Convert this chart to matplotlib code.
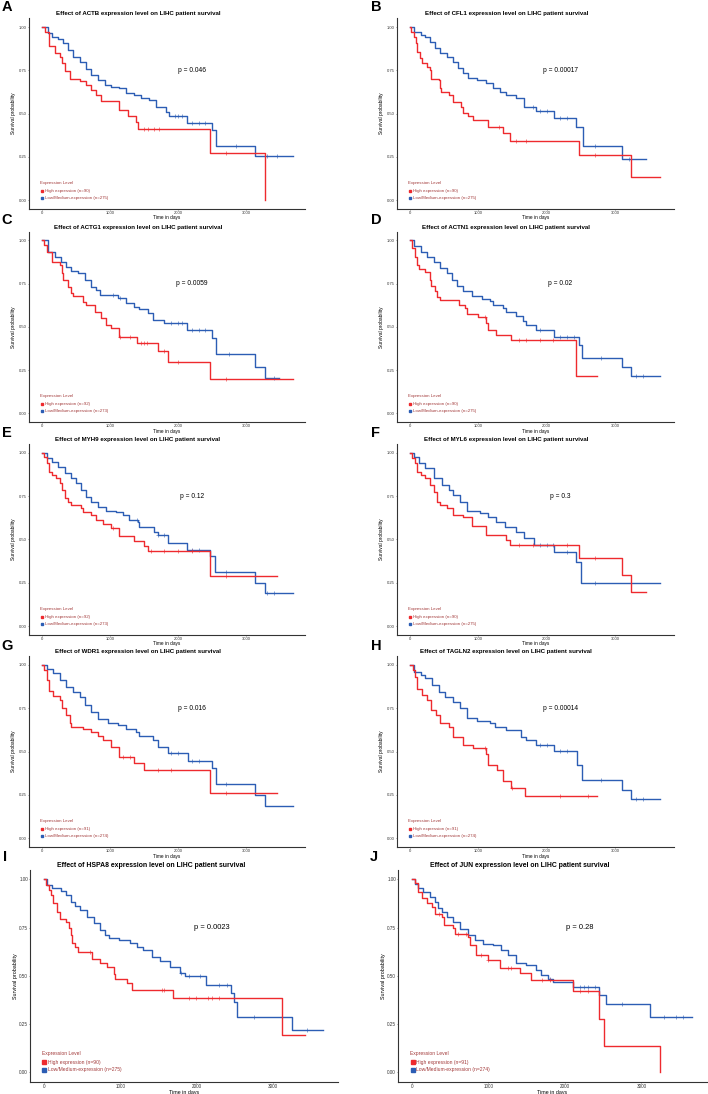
import matplotlib
matplotlib.use('Agg')
import matplotlib.pyplot as plt

plt.rcParams['font.family'] = ['Liberation Sans', 'DejaVu Sans']

RED = '#EE2A2E'
BLUE = '#2C5DB4'
LEGC = '#A33B3B'

genes = ['ACTB', 'CFL1', 'ACTG1', 'ACTN1', 'MYH9', 'MYL6', 'WDR1', 'TAGLN2', 'HSPA8', 'JUN']
letters = ['A', 'B', 'C', 'D', 'E', 'F', 'G', 'H', 'I', 'J']
pvals = ['0.046', '0.00017', '0.0059', '0.02', '0.12', '0.3', '0.016', '0.00014', '0.0023', '0.28']
n_high = [90, 90, 92, 90, 92, 90, 91, 91, 90, 91]
n_low = [275, 275, 273, 275, 273, 275, 274, 274, 275, 274]

# survival curves (time in days, survival after the step)
actb_high_t = [0, 48, 112, 194, 267, 306, 340, 413, 558, 655, 728, 801, 874, 1141, 1262, 1383, 1417, 2461, 3267]
actb_high_s = [1, 0.97, 0.89, 0.85, 0.825, 0.79, 0.745, 0.70, 0.69, 0.665, 0.635, 0.61, 0.575, 0.52, 0.485, 0.453, 0.41, 0.27, 0.0]
actb_high_end = 3267
actb_high_cens = [1500, 1560, 1640, 1720, 2700]
actb_low_t = [0, 97, 146, 243, 316, 388, 461, 558, 655, 728, 825, 922, 1019, 1141, 1238, 1359, 1456, 1578, 1675, 1820, 1869, 2136, 2500, 2549, 3131]
actb_low_s = [1, 0.963, 0.94, 0.93, 0.905, 0.867, 0.828, 0.80, 0.76, 0.72, 0.695, 0.665, 0.655, 0.645, 0.617, 0.607, 0.588, 0.578, 0.54, 0.51, 0.487, 0.447, 0.405, 0.314, 0.254]
actb_low_end = 3689
actb_low_cens = [1950, 2000, 2050, 2200, 2300, 2400, 2850, 3300, 3450]

cfl1_high_t = [0, 24, 63, 87, 111, 149, 183, 255, 303, 313, 424, 438, 457, 568, 631, 746, 785, 857, 920, 1146, 1363, 1469, 2470, 3231]
cfl1_high_s = [1, 0.973, 0.944, 0.906, 0.858, 0.819, 0.79, 0.771, 0.752, 0.698, 0.694, 0.646, 0.627, 0.608, 0.569, 0.54, 0.502, 0.483, 0.46, 0.425, 0.39, 0.344, 0.26, 0.131]
cfl1_high_end = 3654
cfl1_high_cens = [1300, 1560, 1700, 2700]
cfl1_low_t = [0, 63, 159, 231, 303, 376, 448, 544, 640, 713, 785, 857, 977, 1122, 1218, 1314, 1411, 1555, 1676, 1844, 2109, 2431, 2528, 3096]
cfl1_low_s = [1, 0.973, 0.954, 0.944, 0.915, 0.877, 0.848, 0.829, 0.80, 0.762, 0.733, 0.704, 0.694, 0.675, 0.646, 0.627, 0.608, 0.588, 0.54, 0.512, 0.473, 0.421, 0.315, 0.237]
cfl1_low_end = 3457
cfl1_low_cens = [1800, 1900, 2000, 2200, 2300, 2700, 3200]

actg1_high_t = [0, 34, 73, 146, 267, 301, 316, 388, 437, 461, 607, 655, 777, 874, 947, 1019, 1141, 1398, 1699, 1845, 2466]
actg1_high_s = [1, 0.973, 0.934, 0.876, 0.857, 0.809, 0.771, 0.732, 0.694, 0.678, 0.645, 0.626, 0.588, 0.549, 0.511, 0.491, 0.443, 0.405, 0.362, 0.299, 0.20]
actg1_high_end = 3689
actg1_high_cens = [1150, 1300, 1450, 1500, 1550, 1800, 2000, 2700]
actg1_low_t = [0, 97, 194, 291, 364, 437, 534, 631, 728, 801, 850, 1117, 1238, 1359, 1432, 1553, 1626, 1796, 2136, 2500, 2549, 3131, 3267]
actg1_low_s = [1, 0.934, 0.906, 0.877, 0.848, 0.825, 0.809, 0.771, 0.732, 0.713, 0.684, 0.665, 0.636, 0.617, 0.601, 0.578, 0.539, 0.52, 0.482, 0.434, 0.341, 0.27, 0.202]
actg1_low_end = 3485
actg1_low_cens = [1050, 1150, 1900, 2000, 2050, 2200, 2300, 2400, 2750, 3400]

actn1_high_t = [0, 39, 72, 101, 135, 231, 294, 313, 376, 400, 438, 727, 809, 833, 1001, 1122, 1146, 1266, 1483, 2431]
actn1_high_s = [1, 0.954, 0.906, 0.858, 0.833, 0.814, 0.772, 0.733, 0.704, 0.672, 0.653, 0.628, 0.608, 0.576, 0.557, 0.522, 0.484, 0.455, 0.426, 0.215]
actn1_high_end = 2735
actn1_high_cens = [1100, 1600, 1700, 1900, 2100]
actn1_low_t = [0, 63, 159, 255, 351, 448, 544, 616, 688, 785, 905, 1050, 1170, 1218, 1363, 1411, 1555, 1651, 1700, 1844, 2109, 2470, 2518, 3096, 3231]
actn1_low_s = [1, 0.964, 0.935, 0.906, 0.877, 0.839, 0.81, 0.772, 0.737, 0.704, 0.676, 0.66, 0.647, 0.628, 0.608, 0.583, 0.56, 0.532, 0.512, 0.484, 0.44, 0.397, 0.321, 0.269, 0.215]
actn1_low_end = 3654
actn1_low_cens = [1900, 2200, 2300, 2400, 2800, 3300, 3400]

myh9_high_t = [0, 39, 73, 107, 146, 218, 267, 301, 340, 388, 437, 583, 607, 728, 801, 898, 1019, 1141, 1359, 1505, 1553, 2466]
myh9_high_s = [1, 0.977, 0.938, 0.89, 0.871, 0.852, 0.827, 0.785, 0.737, 0.717, 0.698, 0.679, 0.66, 0.64, 0.612, 0.588, 0.563, 0.519, 0.492, 0.462, 0.433, 0.288]
myh9_high_end = 3447
myh9_high_cens = [1050, 1600, 1800, 2000, 2200, 2700]
myh9_low_t = [0, 73, 146, 243, 340, 437, 510, 583, 655, 728, 825, 947, 1092, 1189, 1286, 1408, 1432, 1650, 1699, 1845, 2136, 2466, 2534, 3131, 3267]
myh9_low_s = [1, 0.967, 0.948, 0.919, 0.881, 0.852, 0.823, 0.785, 0.746, 0.717, 0.685, 0.665, 0.66, 0.64, 0.612, 0.602, 0.573, 0.544, 0.525, 0.481, 0.438, 0.404, 0.313, 0.25, 0.188]
myh9_low_end = 3689
myh9_low_cens = [1400, 1700, 1800, 2200, 2300, 2700, 3300, 3400]

myl6_high_t = [0, 39, 72, 101, 159, 231, 294, 351, 400, 448, 544, 640, 785, 905, 1122, 1411, 1469, 2470, 3096, 3231]
myl6_high_s = [1, 0.967, 0.938, 0.89, 0.871, 0.852, 0.813, 0.775, 0.717, 0.698, 0.679, 0.64, 0.627, 0.577, 0.525, 0.496, 0.467, 0.39, 0.294, 0.194]
myl6_high_end = 3457
myl6_high_cens = [1600, 1800, 2300, 2700]
myl6_low_t = [0, 63, 135, 231, 351, 472, 568, 640, 737, 833, 1026, 1146, 1266, 1387, 1555, 1676, 1820, 2109, 2431, 2508]
myl6_low_s = [1, 0.977, 0.938, 0.91, 0.852, 0.813, 0.785, 0.756, 0.717, 0.665, 0.65, 0.631, 0.602, 0.569, 0.544, 0.506, 0.467, 0.429, 0.371, 0.25]
myl6_low_end = 3654
myl6_low_cens = [1900, 2000, 2100, 2300, 2700]

wdr1_high_t = [0, 39, 73, 107, 170, 267, 306, 364, 413, 437, 607, 728, 825, 898, 1019, 1141, 1359, 1505, 2466]
wdr1_high_s = [1, 0.971, 0.913, 0.85, 0.821, 0.798, 0.75, 0.712, 0.663, 0.64, 0.629, 0.615, 0.59, 0.567, 0.529, 0.471, 0.433, 0.394, 0.263]
wdr1_high_end = 3447
wdr1_high_cens = [1200, 1300, 1700, 1900, 2700]
wdr1_low_t = [0, 73, 170, 267, 364, 461, 558, 631, 728, 825, 971, 1117, 1238, 1383, 1432, 1626, 1699, 1845, 2146, 2500, 2549, 3131, 3267]
wdr1_low_s = [1, 0.975, 0.952, 0.913, 0.875, 0.846, 0.817, 0.769, 0.731, 0.687, 0.667, 0.654, 0.629, 0.615, 0.59, 0.567, 0.529, 0.49, 0.446, 0.408, 0.313, 0.25, 0.188]
wdr1_low_end = 3689
wdr1_low_cens = [1900, 2000, 2200, 2300, 2700]

tagln2_high_t = [0, 48, 77, 101, 183, 255, 313, 390, 438, 568, 640, 785, 929, 1112, 1146, 1276, 1363, 1483, 1690]
tagln2_high_s = [1, 0.971, 0.933, 0.86, 0.827, 0.798, 0.74, 0.712, 0.664, 0.641, 0.583, 0.539, 0.52, 0.488, 0.424, 0.395, 0.328, 0.29, 0.242]
tagln2_high_end = 2735
tagln2_high_cens = [1100, 1500, 2200, 2600]
tagln2_low_t = [0, 63, 159, 231, 327, 424, 520, 640, 737, 833, 977, 1170, 1242, 1411, 1627, 1700, 1844, 2109, 2446, 2518, 3096, 3231]
tagln2_low_s = [1, 0.962, 0.942, 0.923, 0.885, 0.846, 0.818, 0.789, 0.75, 0.693, 0.679, 0.664, 0.645, 0.626, 0.587, 0.568, 0.539, 0.501, 0.424, 0.338, 0.28, 0.227]
tagln2_low_end = 3654
tagln2_low_cens = [1900, 2000, 2200, 2300, 2800, 3300, 3400]

hspa8_high_t = [0, 22, 65, 96, 122, 165, 209, 283, 326, 357, 370, 413, 443, 630, 739, 826, 913, 935, 1087, 1152, 1687, 3122]
hspa8_high_s = [1, 0.971, 0.945, 0.919, 0.876, 0.832, 0.794, 0.777, 0.746, 0.712, 0.668, 0.651, 0.625, 0.585, 0.565, 0.547, 0.508, 0.484, 0.461, 0.427, 0.383, 0.193]
hspa8_high_end = 3426
hspa8_high_cens = [600, 1550, 1580, 1900, 2000, 2150, 2200, 2300]
hspa8_low_t = [0, 43, 109, 217, 283, 348, 413, 478, 565, 652, 739, 804, 848, 978, 1130, 1217, 1304, 1413, 1522, 1652, 1783, 1848, 2122, 2457, 2500, 2530, 3252]
hspa8_low_s = [1, 0.971, 0.953, 0.94, 0.919, 0.884, 0.864, 0.841, 0.807, 0.772, 0.737, 0.712, 0.694, 0.686, 0.668, 0.651, 0.634, 0.599, 0.577, 0.547, 0.513, 0.499, 0.453, 0.409, 0.366, 0.288, 0.219]
hspa8_low_end = 3661
hspa8_low_cens = [1800, 1900, 2050, 2300, 2400, 2750, 3450]

jun_high_t = [0, 39, 83, 126, 191, 257, 300, 387, 417, 539, 561, 735, 757, 843, 996, 1148, 1409, 1561, 2104, 2443, 2517, 3243]
jun_high_s = [1, 0.979, 0.936, 0.901, 0.875, 0.858, 0.823, 0.806, 0.763, 0.749, 0.719, 0.702, 0.662, 0.607, 0.584, 0.541, 0.516, 0.48, 0.419, 0.277, 0.139, 0.0]
jun_high_end = 3243
jun_high_cens = [350, 600, 700, 900, 1000, 1250, 1300, 1700, 1800, 2200, 2300]
jun_low_t = [0, 39, 83, 148, 235, 300, 343, 387, 452, 539, 626, 735, 822, 930, 1061, 1170, 1257, 1365, 1496, 1617, 1691, 1778, 1843, 2104, 2452, 2539, 3113]
jun_low_s = [1, 0.974, 0.953, 0.936, 0.91, 0.884, 0.853, 0.832, 0.806, 0.78, 0.745, 0.714, 0.685, 0.667, 0.659, 0.633, 0.607, 0.568, 0.555, 0.529, 0.503, 0.485, 0.468, 0.442, 0.402, 0.355, 0.286]
jun_low_end = 3661
jun_low_cens = [1800, 2200, 2250, 2300, 2400, 2750, 3300, 3450, 3550]

curves = [
    ((actb_high_t, actb_high_s, actb_high_end, actb_high_cens), (actb_low_t, actb_low_s, actb_low_end, actb_low_cens)),
    ((cfl1_high_t, cfl1_high_s, cfl1_high_end, cfl1_high_cens), (cfl1_low_t, cfl1_low_s, cfl1_low_end, cfl1_low_cens)),
    ((actg1_high_t, actg1_high_s, actg1_high_end, actg1_high_cens), (actg1_low_t, actg1_low_s, actg1_low_end, actg1_low_cens)),
    ((actn1_high_t, actn1_high_s, actn1_high_end, actn1_high_cens), (actn1_low_t, actn1_low_s, actn1_low_end, actn1_low_cens)),
    ((myh9_high_t, myh9_high_s, myh9_high_end, myh9_high_cens), (myh9_low_t, myh9_low_s, myh9_low_end, myh9_low_cens)),
    ((myl6_high_t, myl6_high_s, myl6_high_end, myl6_high_cens), (myl6_low_t, myl6_low_s, myl6_low_end, myl6_low_cens)),
    ((wdr1_high_t, wdr1_high_s, wdr1_high_end, wdr1_high_cens), (wdr1_low_t, wdr1_low_s, wdr1_low_end, wdr1_low_cens)),
    ((tagln2_high_t, tagln2_high_s, tagln2_high_end, tagln2_high_cens), (tagln2_low_t, tagln2_low_s, tagln2_low_end, tagln2_low_cens)),
    ((hspa8_high_t, hspa8_high_s, hspa8_high_end, hspa8_high_cens), (hspa8_low_t, hspa8_low_s, hspa8_low_end, hspa8_low_cens)),
    ((jun_high_t, jun_high_s, jun_high_end, jun_high_cens), (jun_low_t, jun_low_s, jun_low_end, jun_low_cens)),
]

W, H = 708, 1094
fig = plt.figure(figsize=(W / 100, H / 100), dpi=100)

# pixel layout of the panels (top, bottom) per row and (left, right) per column
rows = [(18.4, 208.7), (231.6, 422.0), (444.0, 634.7), (656.3, 847.0), (869.7, 1082.0)]
cols = [(29, 305), (397, 674)]
cols_last = [(30, 338), (398, 707)]
letter_xy = [(7, 7), (376, 7), (7, 220), (376, 220), (7, 433), (376, 433),
             (7, 646), (376, 646), (5, 857), (374, 857)]


def surv_at(t, s, x):
    val = s[0]
    for ti, si in zip(t, s):
        if ti <= x:
            val = si
    return val


def draw_curve(ax, data, color):
    t, s, end, cens = data
    ax.step(list(t) + [end], list(s) + [s[-1]], where='post', color=color, lw=1.0)
    cx = [c for c in cens if c <= end]
    cy = [surv_at(t, s, c) for c in cx]
    ax.plot(cx, cy, ls='none', marker='+', ms=2.2, mew=0.4, color=color)


for i in range(10):
    r, c = divmod(i, 2)
    top, bot = rows[r]
    left, right = (cols_last if r == 4 else cols)[c]
    k = 1.12 if r == 4 else 1.0
    wpx, hpx = right - left, bot - top
    ax = fig.add_axes([left / W, 1 - bot / H, wpx / W, hpx / H])

    high, low = curves[i]
    draw_curve(ax, low, BLUE)
    draw_curve(ax, high, RED)

    ax.set_xlim(-184, 3859)
    ax.set_ylim(-0.05, 1.05)
    ax.set_xticks([0, 1000, 2000, 3000])
    ax.set_yticks([0, 0.25, 0.5, 0.75, 1.0])
    ax.set_yticklabels(['0.00', '0.25', '0.50', '0.75', '1.00'])
    ax.tick_params(labelsize=3.0 * k, length=1.0, width=0.4, pad=0.4, colors='#333333')
    for sp in ['top', 'right']:
        ax.spines[sp].set_visible(False)
    for sp in ['left', 'bottom']:
        ax.spines[sp].set_linewidth(0.8)
        ax.spines[sp].set_color('#333333')

    ax.set_ylabel('Survival probability', fontsize=3.5 * k)
    ax.yaxis.set_label_coords(-12.5 / wpx, 0.5)
    ax.set_xlabel('Time in days', fontsize=3.4 * k)
    ax.xaxis.set_label_coords(0.5, -(6.6 if r < 4 else 7.6) / hpx)

    ax.text(0.395, 1 + 4.5 / hpx, 'Effect of %s expression level on LIHC patient survival' % genes[i],
            transform=ax.transAxes, ha='center', va='center', fontsize=4.45 * k, weight='bold')
    ax.text(2200, 0.75, 'p = ' + pvals[i], ha='center', va='center', fontsize=4.8 * k)

    # legend
    ax.text(0.04, 0.135, 'Expression Level', transform=ax.transAxes, ha='left', va='center',
            fontsize=3.2 * k, color=LEGC)
    ax.plot([0.047], [0.094], transform=ax.transAxes, marker='s', ms=2.0 * k, color=RED, ls='none')
    ax.text(0.058, 0.094, 'High expression (n=%d)' % n_high[i], transform=ax.transAxes, ha='left',
            va='center', fontsize=3.2 * k, color=LEGC)
    ax.plot([0.047], [0.058], transform=ax.transAxes, marker='s', ms=2.0 * k, color=BLUE, ls='none')
    ax.text(0.058, 0.058, 'Low/Medium-expression (n=%d)' % n_low[i], transform=ax.transAxes, ha='left',
            va='center', fontsize=3.2 * k, color=LEGC)

    lx, ly = letter_xy[i]
    fig.text(lx / W, 1 - ly / H, letters[i], ha='center', va='center', fontsize=10.5, weight='bold')

fig.savefig('out.png', dpi=100)
